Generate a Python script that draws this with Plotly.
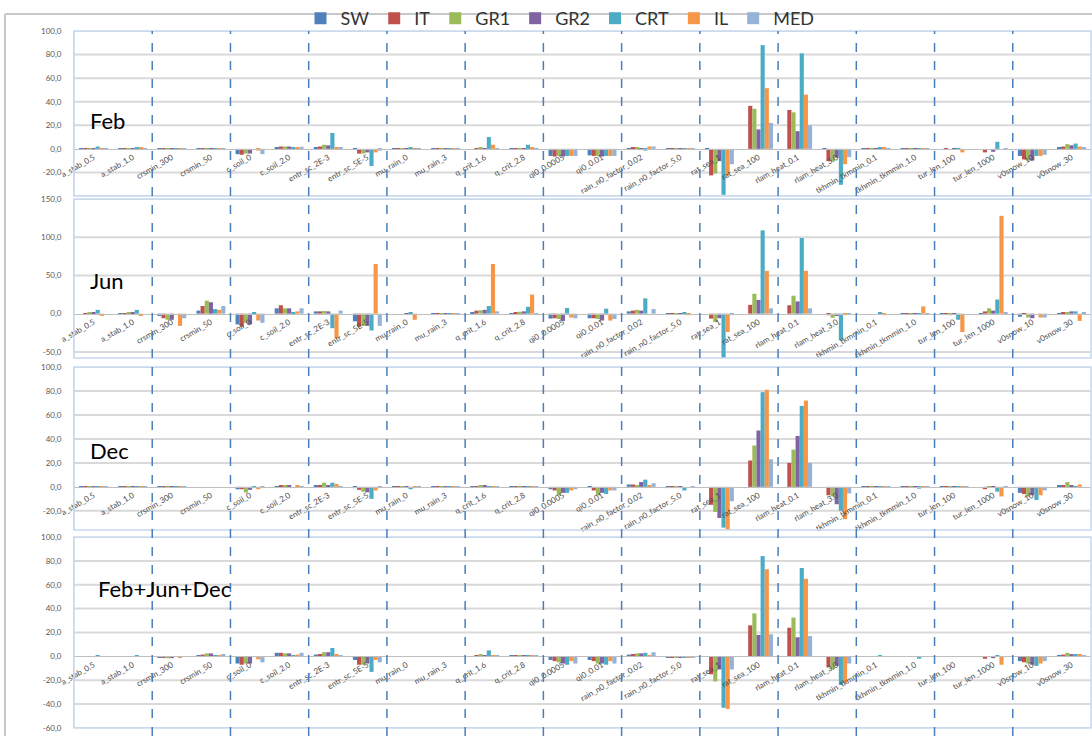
import plotly.graph_objects as go

categories = ["a_stab_0.5", "a_stab_1.0", "crsmin_300", "crsmin_50", "c_soil_0", "c_soil_2.0",
              "entr_sc_2E-3", "entr_sc_5E-5", "mu_rain_0", "mu_rain_3", "q_crit_1.6", "q_crit_2.8",
              "qi0_0.0005", "qi0_0.01", "rain_n0_factor_0.02", "rain_n0_factor_5.0", "rat_sea_1",
              "rat_sea_100", "rlam_heat_0.1", "rlam_heat_3.0", "tkhmin_tkmmin_0.1", "tkhmin_tkmmin_1.0",
              "tur_len_100", "tur_len_1000", "v0snow_10", "v0snow_30"]
series = ["SW", "IT", "GR1", "GR2", "CRT", "IL", "MED"]
colors = ["#4F81BD", "#C0504D", "#9BBB59", "#8064A2", "#4BACC6", "#F79646", "#95B3D7"]

# ---- Feb ----
feb_SW = [0.3, 0.3, 0.3, 0.1, -4.5, 1.5, 1.0, -1.0, 0.2, 0.2, 0.0, 0.2, -6.0, -5.5, 0.5, -0.5, -0.3, 0.0, 0.0, -0.5, 0.3, -0.3, 0.0, 0.0, -6.0, 1.0]
feb_IT = [0.2, 0.3, 0.3, 0.1, -5.0, 2.0, 2.0, -4.0, 0.2, 0.2, 0.5, 0.3, -6.5, -6.0, 1.5, -0.5, -22.5, 36.5, 33.0, -10.5, 0.3, -0.3, 0.3, -3.0, -9.0, 2.0]
feb_GR1 = [0.3, 0.3, 0.3, 0.1, -4.0, 2.0, 3.5, -4.0, 0.2, 0.2, 1.5, 0.5, -6.0, -6.0, 1.5, -0.5, -21.0, 34.0, 31.0, -10.5, 0.3, -0.3, 0.0, 0.0, -10.0, 4.0]
feb_GR2 = [0.2, 0.3, 0.3, 0.1, -4.0, 2.0, 3.0, -3.0, 0.2, 0.2, 0.5, 0.3, -6.5, -6.5, 0.5, -0.5, -10.5, 16.5, 15.0, -7.5, 0.3, -0.3, 0.3, -2.5, -10.0, 3.0]
feb_CRT = [2.0, 1.5, 0.3, 0.1, 0.0, 1.0, 13.5, -14.5, 0.8, 0.2, 10.0, 3.5, -6.0, -6.0, -1.5, 0.5, -39.0, 88.0, 81.0, -30.5, 1.0, -1.0, -0.5, 6.0, -6.0, 4.5]
feb_IL = [0.5, 1.5, 0.3, 0.1, -1.5, 1.5, 1.5, -3.0, 0.2, 0.3, 3.5, 1.5, -6.0, -6.0, 2.0, -0.5, -22.5, 51.5, 46.0, -13.0, 1.0, -0.3, -3.0, 0.0, -6.0, 2.0]
feb_MED = [0.3, 0.3, 0.3, 0.1, -4.5, 1.8, 1.0, -1.5, 0.3, 0.3, 0.5, 0.3, -6.0, -6.0, 2.0, -0.3, -13.0, 22.0, 20.0, -7.0, 0.5, -0.8, 0.0, -1.0, -5.0, 1.0]

# ---- Jun ----
jun_SW = [0.0, 0.3, -3.0, 4.0, -14.0, 7.0, 3.0, -10.0, 0.0, 0.3, 1.0, 0.5, -6.5, -6.0, 3.0, -0.5, 0.0, 0.0, 0.0, 0.0, 0.0, 0.3, -1.0, 0.5, -4.0, 0.5]
jun_IT = [0.5, 0.5, -6.0, 10.0, -17.0, 11.0, 3.0, -17.0, 0.0, 0.3, 4.0, 2.0, -6.0, -6.0, 4.0, -1.0, -6.5, 11.5, 11.0, -2.0, 0.0, 0.3, -1.0, 3.0, -1.0, 1.0]
jun_GR1 = [1.0, 1.0, -8.0, 17.0, -12.0, 7.0, 3.5, -16.0, 0.0, 0.3, 4.5, 2.5, -7.0, -7.0, 5.0, -1.0, -11.0, 26.0, 23.5, -5.5, 0.0, 0.3, -2.0, 7.0, -5.0, 2.0]
jun_GR2 = [1.0, 1.5, -8.0, 15.0, -14.0, 7.0, 3.0, -16.0, 0.5, 0.3, 5.0, 3.0, -9.5, -9.0, 4.0, -0.5, -6.0, 18.0, 16.0, -3.0, 0.0, 0.3, -1.0, 4.0, -6.0, 3.0]
jun_CRT = [5.0, 5.0, 0.0, 6.0, 1.0, 1.0, -19.0, -22.0, 2.0, 0.3, 10.0, 9.0, 7.5, 6.5, 20.0, 2.0, -60.0, 109.0, 99.0, -35.0, 1.0, 0.3, -8.0, 18.5, 0.0, 3.0]
jun_IL = [-3.0, -3.0, -16.0, 5.0, -9.0, 3.0, -32.0, 65.0, -8.0, 0.3, 65.0, 25.0, -5.0, -9.0, 0.0, -2.0, -24.0, 56.0, 56.0, -2.0, -2.0, 9.5, -24.0, 128.0, -5.0, -9.5]
jun_MED = [0.0, 0.0, -6.0, 10.0, -12.0, 7.0, 4.0, -16.0, 0.0, 0.3, 3.0, 0.5, -6.0, -7.0, 6.0, 0.0, -2.0, 7.0, 7.0, -1.0, 0.0, 0.3, 0.0, 1.5, -5.0, 1.0]

# ---- Dec ----
dec_SW = [0.2, 0.2, 0.2, 0.0, -2.0, 0.5, 1.0, -1.0, -0.3, 0.2, 0.3, 0.2, -2.0, -1.0, 2.0, -1.0, 0.0, 0.0, 0.0, 0.0, 0.3, -0.3, 0.3, 0.0, -5.0, 1.0]
dec_IT = [0.2, 0.3, 0.2, 0.0, -2.0, 1.0, 1.5, -2.5, -0.5, 0.2, 0.5, 0.2, -3.0, -3.0, 2.0, -1.0, -15.0, 22.0, 20.0, -7.0, 0.3, -0.3, 0.3, -2.0, -6.0, 1.0]
dec_GR1 = [0.2, 0.3, 0.2, 0.0, -4.7, 1.5, 3.5, -4.0, -0.5, 0.2, 1.5, 0.5, -7.0, -7.0, 1.5, -0.5, -21.0, 34.5, 31.0, -8.0, 0.3, -0.3, 0.3, -0.5, -8.0, 4.0]
dec_GR2 = [0.2, 0.3, 0.2, 0.0, -2.5, 1.5, 1.5, -4.5, -0.5, 0.2, 1.0, 0.3, -5.0, -5.0, 4.0, -1.0, -26.0, 47.0, 42.5, -14.5, 0.3, -0.3, 0.3, -1.0, -7.0, 1.0]
dec_CRT = [0.2, 0.3, 0.3, 0.0, -1.0, 0.0, 3.5, -10.0, -2.0, 0.2, 0.3, -0.5, -5.0, -6.0, 6.0, -3.0, -34.0, 79.0, 67.5, -20.0, 0.3, -1.5, 0.5, -4.0, -11.0, 0.5]
dec_IL = [-0.5, 0.3, 0.3, 0.0, -2.0, 1.0, 2.5, -3.0, -0.3, 0.2, 0.3, 0.3, -3.0, -3.0, 1.0, 0.0, -38.0, 81.0, 72.0, -27.0, 0.3, -0.5, 0.3, -8.0, -7.0, 2.0]
dec_MED = [0.2, 0.3, 0.2, 0.0, -1.0, 0.5, 0.5, -1.0, -0.3, 0.2, 0.3, 0.2, -2.0, -3.0, 3.0, -0.5, -12.0, 23.0, 20.0, -5.5, 0.3, -0.3, 0.3, -0.5, -3.0, 0.0]

# ---- Feb+Jun+Dec ----
all_SW = [0.3, 0.3, -1.0, 1.0, -6.0, 3.0, 1.5, -3.0, -0.3, 0.3, 0.3, 0.5, -3.0, -3.0, 1.5, -1.0, 0.0, 0.0, 0.0, 0.0, 0.2, 0.0, 0.3, 0.0, -4.0, 1.0]
all_IT = [0.3, 0.3, -1.0, 1.5, -7.0, 3.0, 2.0, -7.0, -0.5, 0.3, 1.0, 0.5, -4.0, -4.0, 2.0, -1.0, -15.0, 26.0, 24.0, -9.0, 0.2, 0.0, 0.3, -2.0, -5.0, 1.5]
all_GR1 = [0.3, 0.3, -1.5, 2.5, -6.0, 2.5, 3.5, -7.0, -0.5, 0.3, 2.0, 0.5, -5.0, -6.0, 2.5, -1.0, -21.0, 36.0, 32.5, -11.0, 0.2, 0.0, 0.3, 0.0, -6.0, 3.0]
all_GR2 = [0.3, 0.3, -1.5, 2.5, -6.0, 2.5, 3.5, -6.0, -0.5, 0.3, 1.0, 0.5, -6.0, -6.0, 2.5, -1.0, -11.0, 18.0, 16.0, -8.0, 0.2, 0.0, 0.3, -1.5, -7.0, 2.0]
all_CRT = [1.0, 0.5, 0.0, 1.0, 0.0, 0.5, 7.0, -13.0, -0.5, 0.3, 5.0, 1.0, -7.0, -7.0, 3.0, -1.0, -43.0, 84.0, 74.0, -24.0, 0.5, -2.0, 0.3, 1.0, -8.0, 2.0]
all_IL = [0.3, 0.3, -1.0, 1.0, -2.5, 1.5, 2.0, -3.0, -0.5, 0.3, 0.5, 0.5, -4.0, -4.0, 1.0, -1.0, -44.0, 73.0, 65.0, -22.0, 0.2, 0.0, 0.3, -7.0, -6.0, 2.0]
all_MED = [0.3, 0.3, -0.5, 2.0, -5.0, 3.0, 1.0, -5.0, -0.3, 0.3, 1.0, 0.5, -6.0, -6.0, 3.5, -1.0, -11.0, 18.5, 17.0, -6.0, 0.2, 0.0, 0.3, 0.0, -4.0, 1.0]

panel_titles = ["Feb", "Jun", "Dec", "Feb+Jun+Dec"]
panel_data = [
    [feb_SW, feb_IT, feb_GR1, feb_GR2, feb_CRT, feb_IL, feb_MED],
    [jun_SW, jun_IT, jun_GR1, jun_GR2, jun_CRT, jun_IL, jun_MED],
    [dec_SW, dec_IT, dec_GR1, dec_GR2, dec_CRT, dec_IL, dec_MED],
    [all_SW, all_IT, all_GR1, all_GR2, all_CRT, all_IL, all_MED],
]
y_ranges = [(-40, 100), (-58, 150), (-36, 100), (-60, 100)]
y_grid = [list(range(-40, 101, 20)), list(range(-50, 151, 50)),
          list(range(-20, 101, 20)), list(range(-60, 101, 20))]
y_labels = [list(range(-20, 101, 20)), list(range(-50, 151, 50)),
            list(range(-20, 101, 20)), list(range(-60, 101, 20))]

# layout geometry (pixels of the 1092x736 page)
W, H = 1092, 736
ML, MR = 74, 1
panel_px = [(31, 196), (199, 358), (367, 530), (537, 728)]
title_pos = [(0.014, 0.46), (0.014, 0.49), (0.014, 0.49), (0.022, 0.73)]

FONT = "Lato"
fig = go.Figure()

for p, data in enumerate(panel_data):
    sfx = "" if p == 0 else str(p + 1)
    for s, (name, col) in enumerate(zip(series, colors)):
        fig.add_trace(go.Bar(
            x=categories, y=data[s], name=name, marker_color=col,
            marker_line_width=0, showlegend=(p == 0), legendgroup=name,
            xaxis="x" + sfx, yaxis="y" + sfx))

    top_px, bot_px = panel_px[p]
    d0, d1 = 1 - bot_px / H, 1 - top_px / H
    lo, hi = y_ranges[p]
    zero_pos = d0 + (0 - lo) / (hi - lo) * (d1 - d0)
    fig.layout["yaxis" + sfx] = dict(
        domain=[d0, d1], range=[lo, hi], anchor="x" + sfx, automargin=False,
        tickvals=y_labels[p], ticktext=[f"{v:.1f}".replace(".", ",") for v in y_labels[p]],
        showgrid=False, zeroline=False,
        showline=True, linecolor="#D0D0D0", linewidth=1, ticks="",
        ticklabelstandoff=10, tickfont=dict(family=FONT, size=8, color="#595959"))
    fig.layout["xaxis" + sfx] = dict(
        domain=[0, 1], type="category", range=[-0.5, len(categories) - 0.5],
        anchor="free", position=zero_pos, tickangle=-30, showgrid=False, automargin=False,
        showline=True, linecolor="#BFBFBF", linewidth=1, ticks="",
        tickfont=dict(family=FONT, size=8, color="#4D4D4D"))
    ya = "y" + sfx
    # horizontal gridlines drawn below the bars
    for g in y_grid[p]:
        if g == 0:
            continue
        fig.add_shape(type="line", xref="x" + sfx + " domain", yref=ya, x0=0, x1=1, y0=g, y1=g,
                      layer="below", line=dict(color="#D9D9D9", width=2))
    fig.add_shape(type="rect", xref="x" + sfx + " domain", yref=ya + " domain",
                  x0=0, x1=1, y0=0, y1=1, line=dict(color="#C6D9F1", width=1.5))
    fig.add_annotation(text=panel_titles[p], xref="x" + sfx + " domain", yref=ya + " domain",
                       x=title_pos[p][0], y=title_pos[p][1], xanchor="left", yanchor="middle",
                       showarrow=False, font=dict(family=FONT, size=22, color="#000000"))

# dashed separators between parameter pairs
for k in range(1, len(categories) // 2):
    fig.add_shape(type="line", xref="x", yref="paper", x0=2 * k - 0.5, x1=2 * k - 0.5,
                  y0=0, y1=1 - 31 / H, line=dict(color="#4A7EBB", width=1.5, dash="dash"))

# outer frame lines
fl = (5 - ML) / (W - ML - MR)
fig.add_shape(type="line", xref="paper", yref="paper", x0=fl, x1=1.001, y0=1 - 14 / H, y1=1 - 14 / H,
              line=dict(color="#C8C8C8", width=2))
fig.add_shape(type="line", xref="paper", yref="paper", x0=fl, x1=fl, y0=0, y1=1 - 14 / H,
              line=dict(color="#C8C8C8", width=2))

fig.update_layout(
    width=W, height=H, barmode="group", bargap=0.26, bargroupgap=0.0,
    margin=dict(l=ML, r=MR, t=0, b=0),
    paper_bgcolor="white", plot_bgcolor="white",
    font=dict(family=FONT),
    legend=dict(orientation="h", x=(560 - ML) / (W - ML - MR), xanchor="center", y=1.0, yanchor="top",
                font=dict(family=FONT, size=18, color="#333333"), itemwidth=30,
                bgcolor="rgba(255,255,255,0)", tracegroupgap=0),
)

fig.write_html("out.html", config={"displayModeBar": False},
               post_script="document.body.style.margin='0px';document.body.style.padding='0px';")
